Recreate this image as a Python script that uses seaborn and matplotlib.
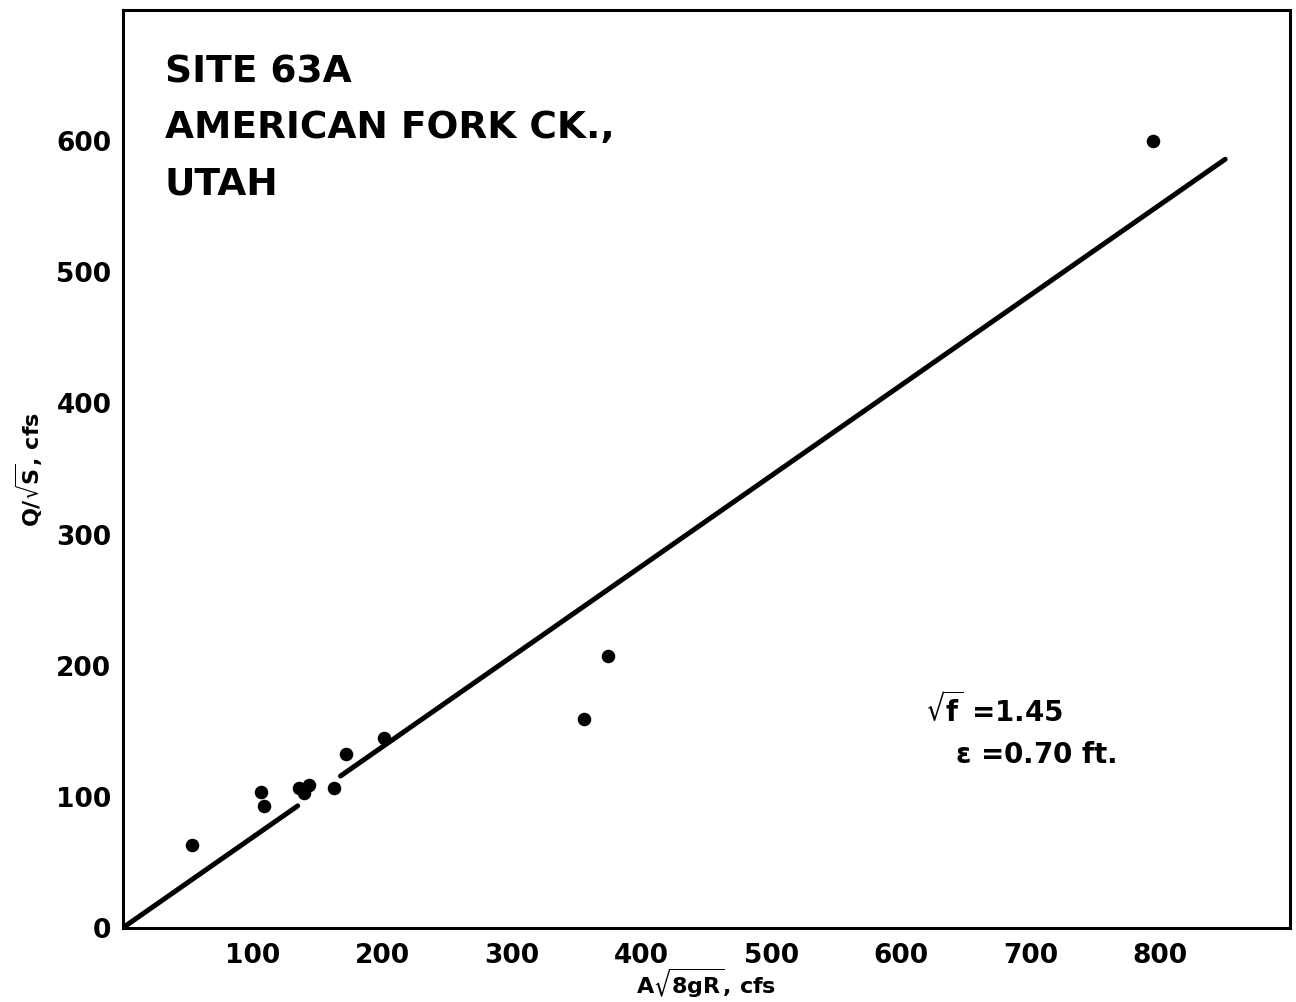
import numpy as np
import pandas as pd
import matplotlib
matplotlib.use("Agg")
import matplotlib.pyplot as plt
import seaborn as sns

# Observed points
x_obs = [53.5, 106.7, 109, 136, 140, 144, 163, 172, 201.5, 355.7, 374, 794.5]
y_obs = [63, 104, 93, 107, 103, 109, 107, 133, 145, 159.5, 207.6, 600]

# Fitted relation Q/sqrt(S) = A*sqrt(8gR) / sqrt(f)
sqrt_f = 1.45
roughness_ft = 0.70
line_segments = [(0, 135), (168, 850)]

x_ticks = [100, 200, 300, 400, 500, 600, 700, 800]
y_ticks = [0, 100, 200, 300, 400, 500, 600]

sns.set_theme(style="white")
plt.rcParams["font.family"] = ["DejaVu Sans"]
plt.rcParams["font.weight"] = "bold"
plt.rcParams["mathtext.default"] = "bf"

fig = plt.figure(figsize=(12.96, 10.02), dpi=100)
ax = fig.add_axes([0.0946, 0.0739, 0.9008, 0.9161])

pts = pd.DataFrame({"x": x_obs, "y": y_obs})
sns.scatterplot(data=pts, x="x", y="y", ax=ax, color="black", s=95,
                edgecolor="black", linewidth=0, zorder=3)

for x0, x1 in line_segments:
    seg = pd.DataFrame({"x": [x0, x1], "y": [x0 / sqrt_f, x1 / sqrt_f]})
    sns.lineplot(data=seg, x="x", y="y", ax=ax, color="black", linewidth=3.6,
                 solid_capstyle="round", zorder=2)

ax.set_xlim(0, 900)
ax.set_ylim(0, 700)
ax.set_xticks(x_ticks)
ax.set_yticks(y_ticks)
ax.set_xticklabels([str(v) for v in x_ticks], fontsize=19, fontweight="bold")
ax.set_yticklabels([str(v) for v in y_ticks], fontsize=19, fontweight="bold")
ax.tick_params(axis="x", direction="in", length=14, width=1.5,
               colors="black", pad=11)
ax.tick_params(axis="y", direction="in", length=6, width=1.5,
               colors="black", pad=8)

for sp in ax.spines.values():
    sp.set_visible(True)
    sp.set_color("black")
    sp.set_linewidth(2.2)

ax.set_xlabel(r"A$\sqrt{8gR}$, cfs", fontsize=16, fontweight="bold",
              labelpad=-2, color="black")
ax.set_ylabel(r"Q/$\sqrt{S}$, cfs", fontsize=16, fontweight="bold",
              labelpad=8, color="black")

ax.text(0.036, 0.952, "SITE 63A\nAMERICAN FORK CK.,\nUTAH",
        transform=ax.transAxes, ha="left", va="top", fontsize=27,
        fontweight="bold", linespacing=1.72, color="black")

ax.text(0.687, 0.237, r"$\sqrt{f}$ =" + f"{sqrt_f:.2f}",
        transform=ax.transAxes, ha="left", va="center", fontsize=20,
        fontweight="bold", color="black")
ax.text(0.713, 0.188, r"$\epsilon$ =" + f"{roughness_ft:.2f} ft.",
        transform=ax.transAxes, ha="left", va="center", fontsize=20,
        fontweight="bold", color="black")

fig.savefig("out.png", dpi=100, facecolor="white")
